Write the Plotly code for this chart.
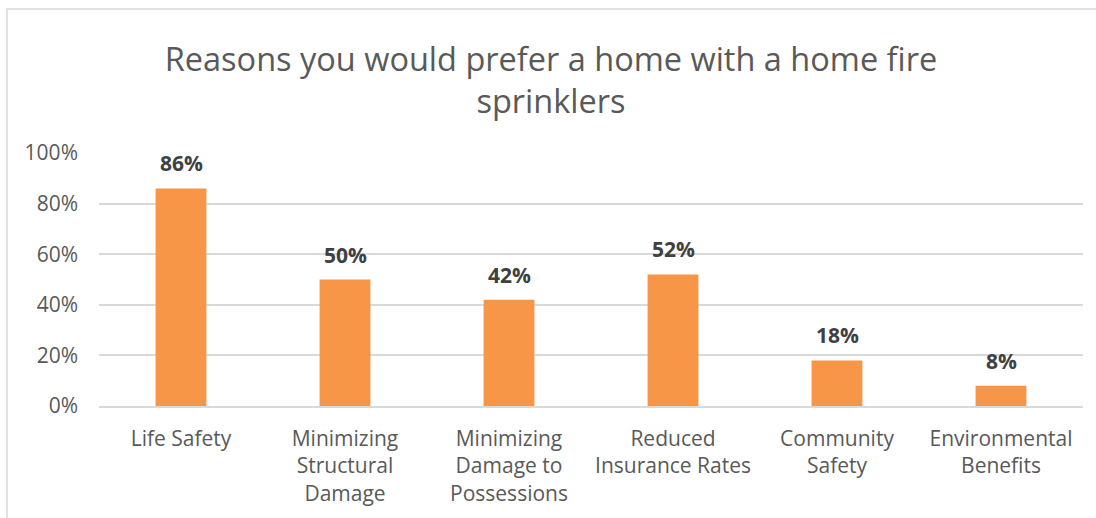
import plotly.graph_objects as go

categories = ["Life Safety", "Minimizing<br>Structural<br>Damage", "Minimizing<br>Damage to<br>Possessions",
              "Reduced<br>Insurance Rates", "Community<br>Safety", "Environmental<br>Benefits"]
values = [0.86, 0.50, 0.42, 0.52, 0.18, 0.08]
labels = ["86%", "50%", "42%", "52%", "18%", "8%"]
tick_vals = [0, 0.2, 0.4, 0.6, 0.8, 1.0]
tick_text = ["0%", "20%", "40%", "60%", "80%", "100%"]

FONT = "'Open Sans', sans-serif"
GRAY = "#595959"

fig = go.Figure(go.Bar(
    x=categories, y=values,
    marker=dict(color="#F79646", line=dict(width=0)),
    width=0.31, hoverinfo="skip",
))

for c, v, t in zip(categories, values, labels):
    fig.add_annotation(x=c, y=v, text=f"<b>{t}</b>", showarrow=False,
                       xanchor="center", yanchor="bottom", yshift=9,
                       font=dict(family=FONT, size=21, color="#404040"))

W, H = 1096, 518
L, R, T, B = 99, 13, 153, 112
pw, ph = W - L - R, H - T - B

fig.update_layout(
    width=W, height=H,
    margin=dict(l=L, r=R, t=T, b=B, autoexpand=False),
    paper_bgcolor="white", plot_bgcolor="white",
    title=dict(text="Reasons you would prefer a home with a home fire<br>sprinklers",
               x=551 / W, xanchor="center", y=1 - 71 / H, yanchor="middle",
               font=dict(family=FONT, size=32.5, color=GRAY)),
    font=dict(family=FONT, size=21, color=GRAY),
    showlegend=False,
    yaxis=dict(range=[0, 1.0], tickvals=tick_vals, ticktext=tick_text,
               gridcolor="#D9D9D9", gridwidth=1.5, zeroline=False,
               showline=False, ticks="", ticklabelstandoff=20,
               tickfont=dict(family=FONT, size=21, color=GRAY)),
    xaxis=dict(showline=True, linecolor="#D9D9D9", linewidth=1.5, ticks="",
               ticklabelstandoff=13,
               tickfont=dict(family=FONT, size=21, color=GRAY)),
    shapes=[dict(type="rect", xref="paper", yref="paper",
                 x0=(7 - L) / pw, x1=(W + 20 - L) / pw,
                 y0=-(H + 20 - T - ph) / ph, y1=(H - B - 9) / ph,
                 line=dict(color="#D9D9D9", width=1.5), fillcolor="rgba(0,0,0,0)",
                 layer="below")],
)

fig.write_html("out.html", config={"displayModeBar": False},
               post_script="document.body.style.margin='0';")
